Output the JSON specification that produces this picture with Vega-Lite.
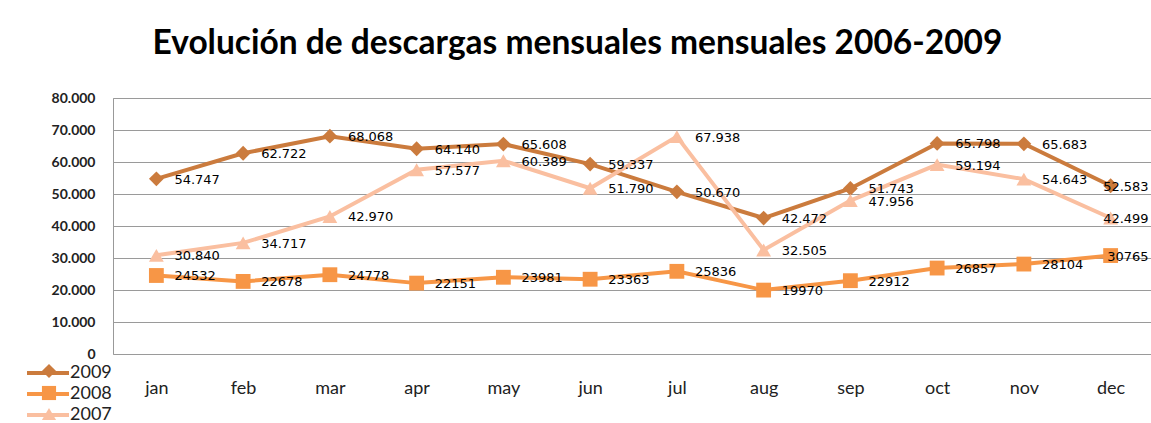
{
  "$schema": "https://vega.github.io/schema/vega-lite/v6.json",
  "autosize": {"type": "none"},
  "padding": {"left": 113, "top": 98, "right": 0, "bottom": 69},
  "width": 1041,
  "height": 256,
  "background": "white",
  "title": {
    "text": "Evolución de descargas mensuales mensuales 2006-2009",
    "font": "Lato",
    "fontSize": 33.5,
    "fontWeight": "bold",
    "color": "black",
    "anchor": "middle",
    "frame": "group",
    "dx": -56,
    "baseline": "alphabetic",
    "offset": 4
  },
  "data": {
    "values": [
      {"month": "jan", "year": "2009", "value": 54747, "label": "54.747"},
      {"month": "feb", "year": "2009", "value": 62722, "label": "62.722"},
      {"month": "mar", "year": "2009", "value": 68068, "label": "68.068"},
      {"month": "apr", "year": "2009", "value": 64140, "label": "64.140"},
      {"month": "may", "year": "2009", "value": 65608, "label": "65.608"},
      {"month": "jun", "year": "2009", "value": 59337, "label": "59.337"},
      {"month": "jul", "year": "2009", "value": 50670, "label": "50.670"},
      {"month": "aug", "year": "2009", "value": 42472, "label": "42.472"},
      {"month": "sep", "year": "2009", "value": 51743, "label": "51.743"},
      {"month": "oct", "year": "2009", "value": 65798, "label": "65.798"},
      {"month": "nov", "year": "2009", "value": 65683, "label": "65.683"},
      {"month": "dec", "year": "2009", "value": 52583, "label": "52.583"},
      {"month": "jan", "year": "2008", "value": 24532, "label": "24532"},
      {"month": "feb", "year": "2008", "value": 22678, "label": "22678"},
      {"month": "mar", "year": "2008", "value": 24778, "label": "24778"},
      {"month": "apr", "year": "2008", "value": 22151, "label": "22151"},
      {"month": "may", "year": "2008", "value": 23981, "label": "23981"},
      {"month": "jun", "year": "2008", "value": 23363, "label": "23363"},
      {"month": "jul", "year": "2008", "value": 25836, "label": "25836"},
      {"month": "aug", "year": "2008", "value": 19970, "label": "19970"},
      {"month": "sep", "year": "2008", "value": 22912, "label": "22912"},
      {"month": "oct", "year": "2008", "value": 26857, "label": "26857"},
      {"month": "nov", "year": "2008", "value": 28104, "label": "28104"},
      {"month": "dec", "year": "2008", "value": 30765, "label": "30765"},
      {"month": "jan", "year": "2007", "value": 30840, "label": "30.840"},
      {"month": "feb", "year": "2007", "value": 34717, "label": "34.717"},
      {"month": "mar", "year": "2007", "value": 42970, "label": "42.970"},
      {"month": "apr", "year": "2007", "value": 57577, "label": "57.577"},
      {"month": "may", "year": "2007", "value": 60389, "label": "60.389"},
      {"month": "jun", "year": "2007", "value": 51790, "label": "51.790"},
      {"month": "jul", "year": "2007", "value": 67938, "label": "67.938"},
      {"month": "aug", "year": "2007", "value": 32505, "label": "32.505"},
      {"month": "sep", "year": "2007", "value": 47956, "label": "47.956"},
      {"month": "oct", "year": "2007", "value": 59194, "label": "59.194"},
      {"month": "nov", "year": "2007", "value": 54643, "label": "54.643"},
      {"month": "dec", "year": "2007", "value": 42499, "label": "42.499"}
    ]
  },
  "encoding": {
    "x": {
      "field": "month",
      "type": "ordinal",
      "sort": ["jan","feb","mar","apr","may","jun","jul","aug","sep","oct","nov","dec"],
      "scale": {"type": "point", "padding": 0.5},
      "axis": {
        "title": null,
        "labelAngle": 0,
        "ticks": false,
        "domain": false,
        "grid": false,
        "labelFont": "Lato",
        "labelFontSize": 18,
        "labelColor": "#222",
        "labelPadding": 25
      }
    },
    "y": {
      "field": "value",
      "type": "quantitative",
      "scale": {"domain": [0, 80000], "nice": false},
      "axis": {
        "title": null,
        "values": [0,10000,20000,30000,40000,50000,60000,70000,80000],
        "labelExpr": "replace(datum.label, ',', '.')",
        "ticks": false,
        "domain": false,
        "labelFont": "Lato",
        "labelFontWeight": "bold",
        "labelFontSize": 14,
        "labelColor": "#222",
        "labelPadding": 18,
        "gridColor": "#9a9a9a",
        "gridWidth": 1
      }
    }
  },
  "layer": [
    {
      "mark": {"type": "line", "strokeWidth": 4},
      "encoding": {
        "stroke": {
          "field": "year",
          "type": "nominal",
          "sort": "descending",
          "scale": {"range": ["#CB7B3D","#F79646","#FABFA0"]},
          "legend": {
            "title": null,
            "orient": "none",
            "legendX": -77,
            "legendY": 263,
            "symbolType": "M-2.1,0H2.1",
            "symbolSize": 400,
            "symbolStrokeWidth": 4,
            "labelFont": "Lato",
            "labelFontSize": 18,
            "labelColor": "#222",
            "labelOffset": 10,
            "rowPadding": 0,
            "padding": 0
          }
        }
      }
    },
    {
      "mark": {"type": "point", "filled": true, "opacity": 1, "size": 220},
      "encoding": {
        "color": {
          "field": "year",
          "type": "nominal",
          "scale": {"domain": ["2009","2008","2007"], "range": ["#CB7B3D","#F79646","#FABFA0"]},
          "legend": {
            "title": null,
            "orient": "none",
            "legendX": -74,
            "legendY": 263,
            "symbolSize": 200,
            "symbolOpacity": 1,
            "labelFont": "Lato",
            "labelFontSize": 20,
            "labelOpacity": 0,
            "rowPadding": 0,
            "padding": 0
          }
        },
        "shape": {
          "field": "year",
          "type": "nominal",
          "scale": {"domain": ["2009","2008","2007"], "range": ["diamond","square","triangle-up"]},
          "legend": {
            "title": null,
            "orient": "none",
            "legendX": -74,
            "legendY": 263,
            "symbolSize": 200,
            "symbolOpacity": 1,
            "labelFont": "Lato",
            "labelFontSize": 20,
            "labelOpacity": 0,
            "rowPadding": 0,
            "padding": 0
          }
        }
      }
    },
    {
      "transform": [{"filter": "datum.month != 'dec'"}],
      "mark": {"type": "text", "align": "left", "baseline": "middle", "dx": 18, "dy": 1, "font": "DejaVu Sans", "fontSize": 13, "color": "black"},
      "encoding": {"text": {"field": "label"}}
    },
    {
      "transform": [{"filter": "datum.month == 'dec'"}],
      "mark": {"type": "text", "align": "right", "baseline": "middle", "dx": 38, "dy": 1, "font": "DejaVu Sans", "fontSize": 13, "color": "black"},
      "encoding": {"text": {"field": "label"}}
    }
  ],
  "config": {
    "view": {"stroke": "#999", "strokeWidth": 1}
  }
}
